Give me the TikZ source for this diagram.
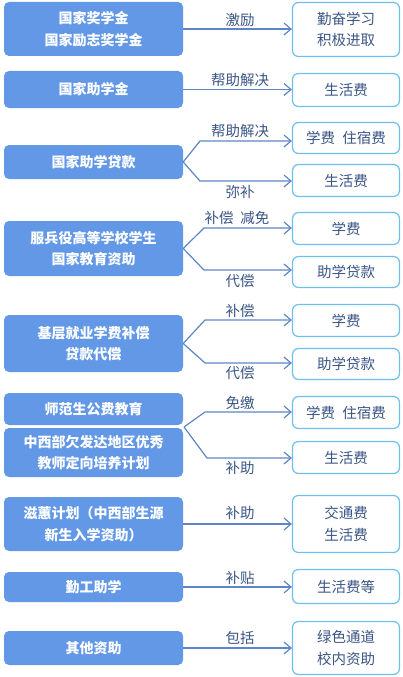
\documentclass[tikz,border=0pt]{standalone}
\usepackage{fontspec}
\setmainfont{Noto Sans CJK SC}
\usetikzlibrary{arrows.meta}

\definecolor{fundblue}{HTML}{6298E6}
\definecolor{edgeblue}{HTML}{6EC0EC}
\definecolor{linkblue}{HTML}{5E86C6}
\definecolor{textblue}{HTML}{3B5686}

\begin{document}
\begin{tikzpicture}[x=1pt,y=-1pt,
    fund/.style={rectangle,rounded corners=5pt,fill=fundblue,text=white,
      font=\bfseries\fontsize{14}{21.5}\selectfont,minimum width=179pt,
      align=center,inner sep=0pt},
    aim/.style={rectangle,rounded corners=6pt,draw=edgeblue,line width=1.2pt,
      fill=white,text=textblue,font=\fontsize{14.5}{21.5}\selectfont,
      minimum width=107pt,align=center,inner sep=0pt},
    link/.style={draw=linkblue,line width=1.2pt,
      -{Straight Barb[length=7pt,width=12pt]}},
    tag/.style={text=textblue,font=\fontsize{14.5}{16}\selectfont,inner sep=0pt}]
    \useasboundingbox (0,0) rectangle (403,677);

    % Funding schemes (left column)
    \node[fund,minimum height=54pt] (award) at (93.5,29) {国家奖学金\\国家励志奖学金};
    \node[fund,minimum height=37pt] (grant) at (93.5,89.5) {国家助学金};
    \node[fund,minimum height=34pt] (loan) at (93.5,162) {国家助学贷款};
    \node[fund,minimum height=55pt] (army) at (93.5,248.5) {服兵役高等学校学生\\国家教育资助};
    \node[fund,minimum height=57pt] (grass) at (93.5,343.5) {基层就业学费补偿\\贷款代偿};
    \node[fund,minimum height=32pt] (normal) at (93.5,409) {师范生公费教育};
    \node[fund,minimum height=49pt] (remote) at (93.5,452.5) {中西部欠发达地区优秀\\教师定向培养计划};
    \node[fund,minimum height=54pt] (spring) at (93.5,524) {滋蕙计划（中西部生源\\新生入学资助）};
    \node[fund,minimum height=30pt] (work) at (93.5,587) {勤工助学};
    \node[fund,minimum height=34pt] (other) at (93.5,648) {其他资助};

    % What they cover (right column)
    \node[aim,minimum height=54pt] (study) at (346,29.5) {勤奋学习\\积极进取};
    \node[aim,minimum height=33pt] (live) at (346,90) {生活费};
    \node[aim,minimum height=31pt] (loanfee) at (346,138) {学费\hspace{0.5em}住宿费};
    \node[aim,minimum height=32pt] (loanlive) at (346,180.5) {生活费};
    \node[aim,minimum height=32pt] (armyfee) at (346,228.5) {学费};
    \node[aim,minimum height=31pt] (armyloan) at (346,272) {助学贷款};
    \node[aim,minimum height=32pt] (grassfee) at (346,320.5) {学费};
    \node[aim,minimum height=31pt] (grassloan) at (346,364) {助学贷款};
    \node[aim,minimum height=32pt] (teachfee) at (346,412.5) {学费\hspace{0.5em}住宿费};
    \node[aim,minimum height=32pt] (teachlive) at (346,457.5) {生活费};
    \node[aim,minimum height=57pt] (travel) at (346,524) {交通费\\生活费};
    \node[aim,minimum height=34pt] (wage) at (346,586.5) {生活费等};
    \node[aim,minimum height=53pt] (green) at (346,648) {绿色通道\\校内资助};

    % Bend points of the forked connectors
    \coordinate (loanup) at (200,141);
    \coordinate (loandown) at (200,181);
    \coordinate (armyup) at (204,228);
    \coordinate (armydown) at (204,270);
    \coordinate (grassup) at (205,320);
    \coordinate (grassdown) at (205,363);
    \coordinate (pair) at (184,427);
    \coordinate (teachup) at (205,412);
    \coordinate (teachdown) at (207,458);

    % Straight connectors
    \draw[link] (award.east) -- (award.east -| study.west);
    \draw[link] (grant.east) -- (grant.east -| live.west);
    \draw[link] (spring.east) -- (spring.east -| travel.west);
    \draw[link] (work.east) -- (work.east -| wage.west);
    \draw[link] (other.east) -- (other.east -| green.west);

    % Forked connectors
    \draw[link] (loan.east) -- (loanup) -- (loanup -| loanfee.west);
    \draw[link] (loan.east) -- (loandown) -- (loandown -| loanlive.west);
    \draw[link] (army.east) -- (armyup) -- (armyup -| armyfee.west);
    \draw[link] (army.east) -- (armydown) -- (armydown -| armyloan.west);
    \draw[link] (grass.east) -- (grassup) -- (grassup -| grassfee.west);
    \draw[link] (grass.east) -- (grassdown) -- (grassdown -| grassloan.west);
    \draw[link] (pair) -- (teachup) -- (teachup -| teachfee.west);
    \draw[link] (pair) -- (teachdown) -- (teachdown -| teachlive.west);

    % Connector labels
    \node[tag] (t-award) at (240,20) {激励};
    \node[tag] (t-grant) at (240,80) {帮助解决};
    \node[tag] (t-loanup) at (240,131) {帮助解决};
    \node[tag] (t-loandown) at (240,192) {弥补};
    \node[tag] (t-armyup) at (237,218) {补偿\hspace{0.45em}减免};
    \node[tag] (t-armydown) at (240,281) {代偿};
    \node[tag] (t-grassup) at (240,311) {补偿};
    \node[tag] (t-grassdown) at (240,373) {代偿};
    \node[tag] (t-teachup) at (240,403) {免缴};
    \node[tag] (t-teachdown) at (240,468) {补助};
    \node[tag] (t-spring) at (240,513) {补助};
    \node[tag] (t-work) at (240,578) {补贴};
    \node[tag] (t-other) at (240,638) {包括};
\end{tikzpicture}
\end{document}
